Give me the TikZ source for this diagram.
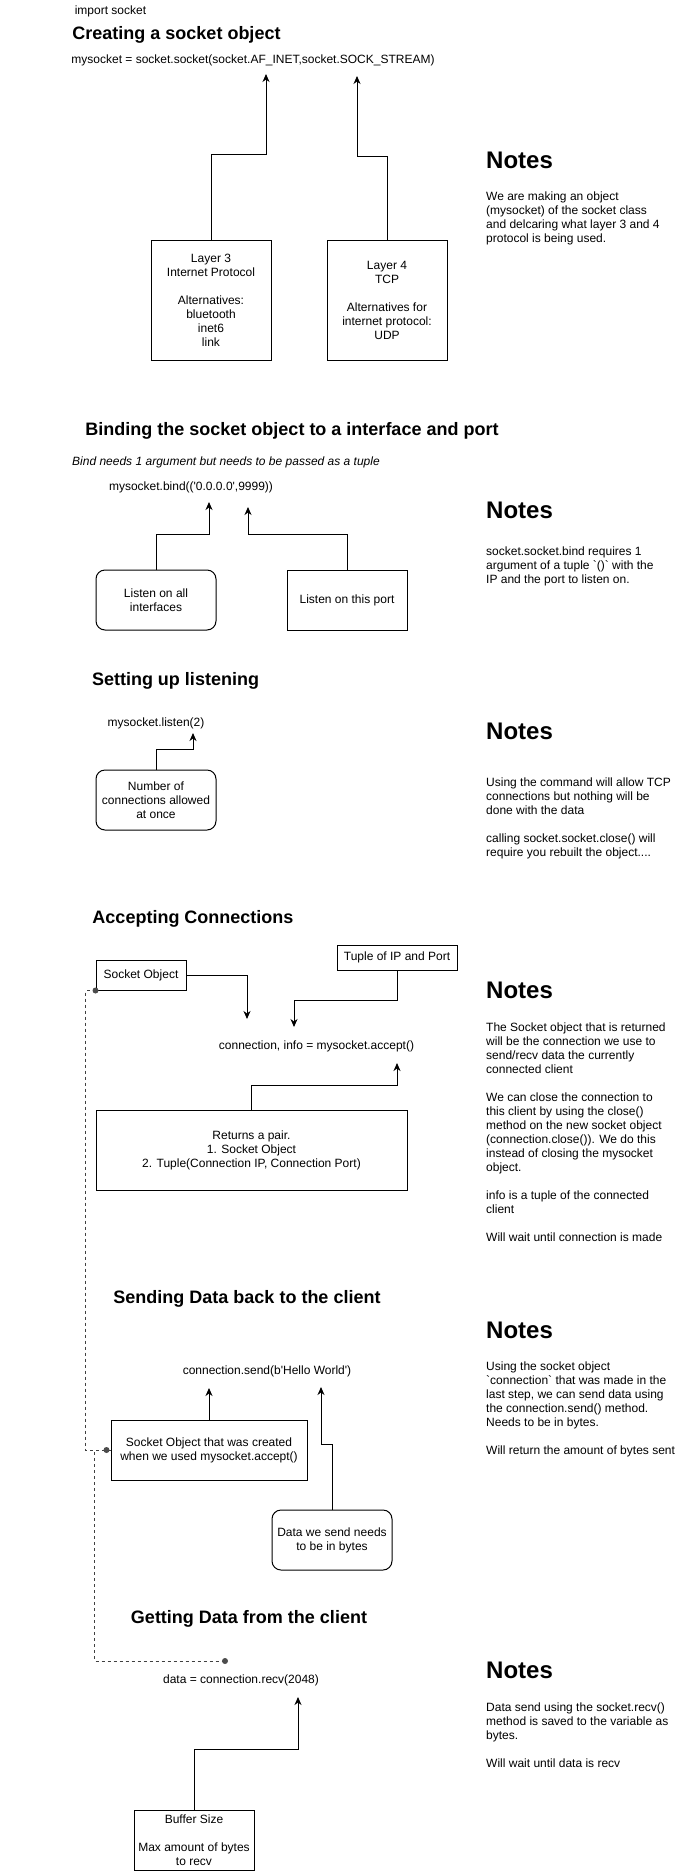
\documentclass[tikz,border=0pt]{standalone}
\usepackage{fontspec}
\setmainfont{Liberation Sans}
\usetikzlibrary{arrows.meta}
\begin{document}
\begin{tikzpicture}[x=1pt,y=-1pt,
  every node/.style={inner sep=0pt, font=\fontsize{12}{14}\selectfont},
  snote/.style={align=left, anchor=west},
  shead/.style={font=\fontsize{18}{21}\selectfont\bfseries},
  snotehead/.style={font=\fontsize{24}{28}\selectfont\bfseries, anchor=west},
  sbox/.style={draw, line width=1pt, align=center},
  srbox/.style={sbox, rounded corners=9pt},
  sarrow/.style={line width=1pt, -{Stealth[length=8pt,width=7pt,inset=2.5pt]}},
  sdash/.style={line width=0.8pt, draw=black!75, dash pattern=on 3pt off 3pt},
  sdot/.style={circle, fill=black!70, minimum size=6pt, inner sep=0pt}
]
\fill[white] (0,0) rectangle (681,1871);
\useasboundingbox (0,0) rectangle (681,1871);

% ---------- Section 1
\node (import) at (110.5,11) {import socket};
\node[shead] (h1) at (176.5,35) {Creating a socket object};
\node (code1) at (253,60) {mysocket = socket.socket(socket.AF\_INET,socket.SOCK\_STREAM)};
\coordinate (a1) at (266,74);
\coordinate (a2) at (357,76);
\node[sbox, minimum width=120pt, minimum height=120pt] (l3) at (211,300)
  {Layer 3\\Internet Protocol\\\mbox{}\\Alternatives:\\bluetooth\\inet6\\link};
\node[sbox, minimum width=120pt, minimum height=120pt] (l4) at (387,300)
  {Layer 4\\TCP\\\mbox{}\\Alternatives for\\internet protocol:\\UDP};
\draw[sarrow] (l3.north) -- ++(0,-85) -| (a1);
\draw[sarrow] (l4.north) -- ++(0,-83) -| (a2);
\node[snotehead] (n1) at (486,160) {Notes};
\node[snote] (nt1) at (486,218) {We are making an object\\(mysocket) of the socket class\\and delcaring what layer 3 and 4\\protocol is being used.};

% ---------- Section 2
\node[shead] (h2) at (292,431) {Binding the socket object to a interface and port};
\node[font=\fontsize{12}{14}\selectfont\itshape] (bindnote) at (226,462) {Bind needs 1 argument but needs to be passed as a tuple};
\node (code2) at (191,487) {mysocket.bind((\textquotesingle 0.0.0.0\textquotesingle,9999))};
\coordinate (a3) at (209,502);
\coordinate (a4) at (248,507);
\node[srbox, minimum width=120pt, minimum height=60pt] (ball) at (156,600) {Listen on all\\interfaces};
\node[sbox, minimum width=120pt, minimum height=60pt] (bport) at (347,600) {Listen on this port};
\draw[sarrow] (ball.north) -- ++(0,-35) -| (a3);
\draw[sarrow] (bport.north) -- ++(0,-35) -| (a4);
\node[snotehead] (n2) at (486,510) {Notes};
\node[snote] (nt2) at (486,566) {socket.socket.bind requires 1\\argument of a tuple \textasciigrave()\textasciigrave{} with the\\IP and the port to listen on.};

% ---------- Section 3
\node[shead] (h3) at (175.5,681) {Setting up listening};
\node (code3) at (156,723) {mysocket.listen(2)};
\coordinate (a5) at (193,733);
\node[srbox, minimum width=120pt, minimum height=60pt] (bnum) at (156,800) {Number of\\connections allowed\\at once};
\draw[sarrow] (bnum.north) -- ++(0,-20) -| (a5);
\node[snotehead] (n3) at (486,731) {Notes};
\node[snote] (nt3) at (486,818.5) {Using the command will allow TCP\\connections but nothing will be\\done with the data\\\mbox{}\\calling socket.socket.close() will\\require you rebuilt the object....};

% ---------- Section 4
\node[shead] (h4) at (193,919) {Accepting Connections};
\node[sbox, minimum width=90pt, minimum height=30pt] (sock) at (141,975) {Socket Object};
\node[sbox, minimum width=120pt, minimum height=25pt] (tuple) at (397,957.5) {Tuple of IP and Port};
\coordinate (a6) at (247,1019);
\coordinate (a7) at (294,1027);
\draw[sarrow] (sock.east) -| (a6);
\draw[sarrow] (tuple.south) -- ++(0,30) -| (a7);
\node (code4) at (316.5,1046) {connection, info = mysocket.accept()};
\coordinate (a8) at (397,1063);
\node[sbox, minimum width=311pt, minimum height=80pt] (ret) at (251.5,1150) {Returns a pair.\\1. Socket Object\\2. Tuple(Connection IP, Connection Port)};
\draw[sarrow] (ret.north) -- ++(0,-24) -| (a8);
\node[snotehead] (n4) at (486,990) {Notes};
\node[snote] (nt4) at (486,1132) {The Socket object that is returned\\will be the connection we use to\\send/recv data the currently\\connected client\\\mbox{}\\We can close the connection to\\this client by using the close()\\method on the new socket object\\(connection.close()). We do this\\instead of closing the mysocket\\object.\\\mbox{}\\info is a tuple of the connected\\client\\\mbox{}\\Will wait until connection is made};

% ---------- Section 5
\node[shead] (h5) at (247,1299) {Sending Data back to the client};
\node[snotehead] (n5) at (486,1330) {Notes};
\node[snote] (nt5) at (486,1409) {Using the socket object\\\textasciigrave connection\textasciigrave{} that was made in the\\last step, we can send data using\\the connection.send() method.\\Needs to be in bytes.\\\mbox{}\\Will return the amount of bytes sent};
\node (code5) at (267,1371) {connection.send(b\textquotesingle Hello World\textquotesingle)};
\coordinate (a9) at (209,1388);
\node[sbox, minimum width=196pt, minimum height=60pt] (sobj) at (209,1450) {Socket Object that was created\\when we used mysocket.accept()};
\draw[sarrow] (sobj.north) -- (a9);
\node[srbox, minimum width=120pt, minimum height=60pt] (bdata) at (332,1540) {Data we send needs\\to be in bytes};
\coordinate (a10) at (321,1387);
\draw[sarrow] (bdata.north) -- ++(0,-65) -| (a10);

% ---------- Section 6
\node[shead] (h6) at (249,1619) {Getting Data from the client};
\node (code6) at (241,1680) {data = connection.recv(2048)};
\coordinate (a11) at (298,1697);
\node[sbox, minimum width=120pt, minimum height=60pt] (buf) at (194,1840) {Buffer Size\\\mbox{}\\Max amount of bytes\\to recv};
\draw[sarrow] (buf.north) -- ++(0,-60) -| (a11);
\node[snotehead] (n6) at (486,1670) {Notes};
\node[snote] (nt6) at (486,1735) {Data send using the socket.recv()\\method is saved to the variable as\\bytes.\\\mbox{}\\Will wait until data is recv};

% ---------- dashed links
\coordinate (dend) at (225,1661);
\draw[sdash] (sock.south west) -- ++(-10,0) |- (sobj.west);
\draw[sdash] (sobj.west) -- ++(-16,0) |- (dend);
\node[sdot] (dot1) at (sock.south west) {};
\node[sdot] (dot2) at ([xshift=-4pt]sobj.west) {};
\node[sdot] (dot3) at (dend) {};
\end{tikzpicture}
\end{document}
